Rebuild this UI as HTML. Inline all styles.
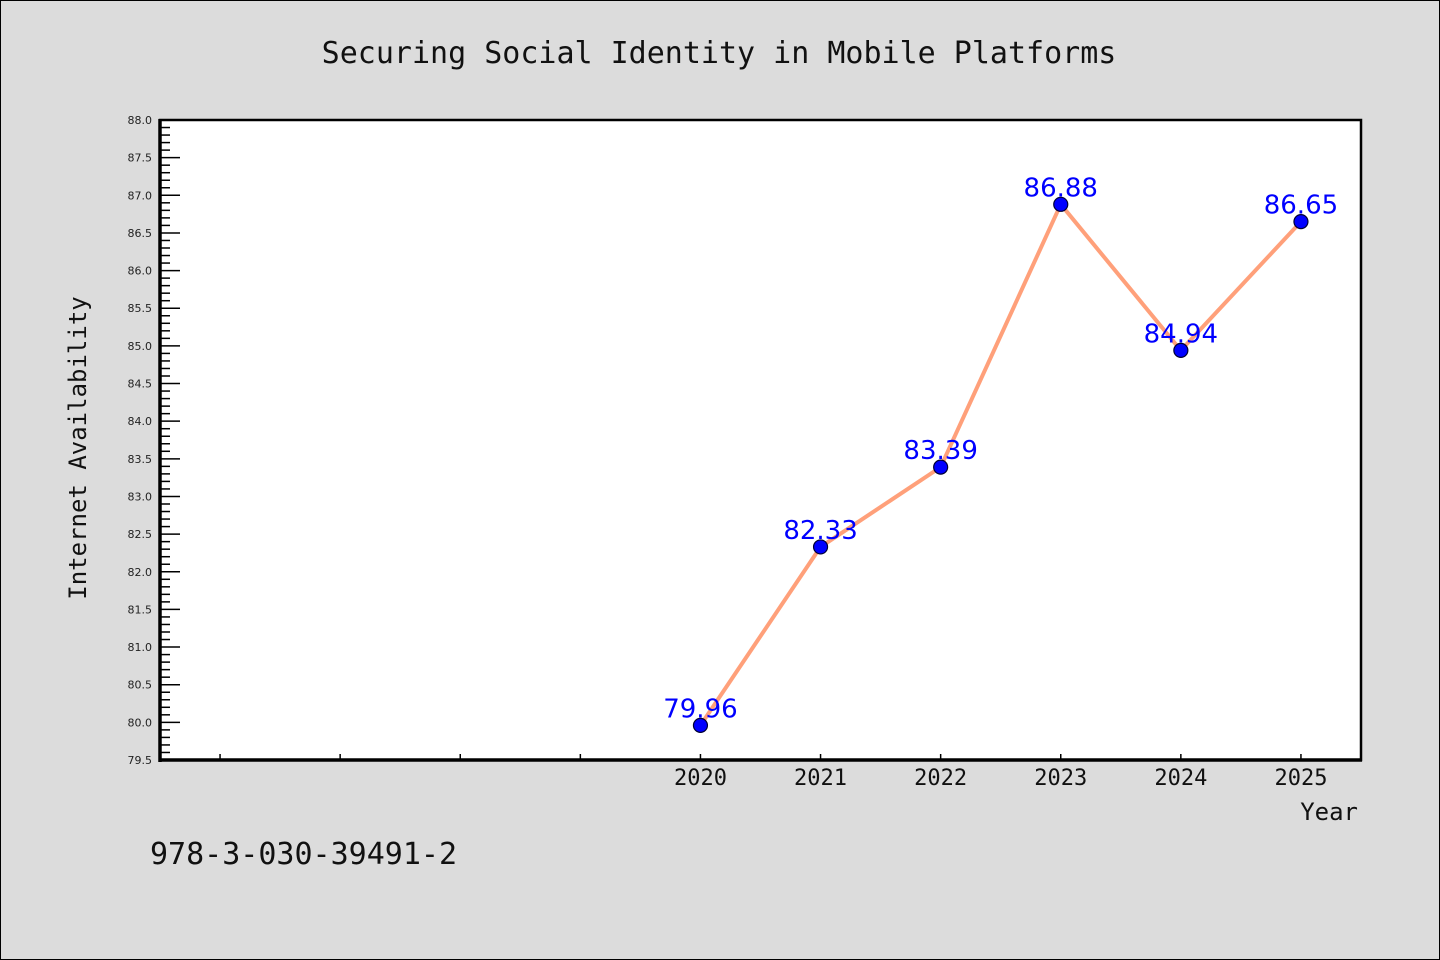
<!DOCTYPE html>
<html><head><meta charset="utf-8"><style>
body{margin:0;background:#dcdcdc;}
svg{display:block;font-family:"DejaVu Sans Mono","Liberation Mono",monospace;}
</style></head><body>
<svg width="1440" height="960">
<rect x="0.5" y="0.5" width="1439" height="959" fill="#dcdcdc" stroke="#000"/>
<text x="719" y="63" font-size="30" text-anchor="middle" fill="#111">Securing Social Identity in Mobile Platforms</text>
<rect x="160" y="120" width="1201" height="640" fill="#fff"/>
<g id="axes"></g>
<g id="marks"></g>
<text transform="translate(86,448) rotate(-90)" font-size="24" text-anchor="middle" fill="#111">Internet Availability</text>
<text x="1358" y="820" font-size="24" text-anchor="end" fill="#111">Year</text>
<text x="150" y="864" font-size="30" fill="#111">978-3-030-39491-2</text>
</svg>
<script>
const years=[2020,2021,2022,2023,2024,2025];
const values=[79.96,82.33,83.39,86.88,84.94,86.65];
const valueLabels=["79.96","82.33","83.39","86.88","84.94","86.65"];
const yTickLabels=["79.5","80.0","80.5","81.0","81.5","82.0","82.5","83.0","83.5","84.0","84.5","85.0","85.5","86.0","86.5","87.0","87.5","88.0"];
const xTicks=[2016,2017,2018,2019,2020,2021,2022,2023,2024,2025];
const xLabels=["","","","","2020","2021","2022","2023","2024","2025"];
const NS="http://www.w3.org/2000/svg";
const X0=160,X1=1361,Y0=760,Y1=120;
const xMin=2015.5,xMax=2025.5,yMin=79.5,yMax=88.0;
const sx=v=>X0+(v-xMin)/(xMax-xMin)*(X1-X0);
const sy=v=>Y0-(v-yMin)/(yMax-yMin)*(Y0-Y1);
function mk(tag,attrs,parent){const e=document.createElementNS(NS,tag);for(const k in attrs)e.setAttribute(k,attrs[k]);parent.appendChild(e);return e;}
const axes=document.getElementById('axes'),marks=document.getElementById('marks');
// y minor ticks
for(let i=0;i<=85;i++){const v=yMin+i*0.1;const major=i%5===0;
 const t=mk('line',{x1:X0,x2:X0+(major?20:10),y1:sy(v),y2:sy(v),stroke:'#000','stroke-width':1.5},axes);
 
 }
yTickLabels.forEach(l=>{const t=mk('text',{x:X0-8,y:sy(parseFloat(l))+4,'font-size':11,'text-anchor':'end',fill:'#222','font-family':'DejaVu Sans, sans-serif'},axes);t.textContent=l;
 
 });
xTicks.forEach((v,i)=>{const t=mk('line',{x1:sx(v),x2:sx(v),y1:Y0,y2:Y0-6,stroke:'#000','stroke-width':1.5},axes);
 
 
 if(xLabels[i]){const tx=mk('text',{x:sx(v),y:785,'font-size':22,'text-anchor':'middle',fill:'#111'},axes);tx.textContent=xLabels[i];
 
 }});
// spines
const f=mk('rect',{x:X0,y:Y1,width:X1-X0,height:Y0-Y1,fill:'none',stroke:'#000','stroke-width':2.5},axes);


const l1=mk('line',{x1:X0,x2:X0,y1:Y1-1,y2:Y0+2,stroke:'#000','stroke-width':3.5},axes);


const l2=mk('line',{x1:X0-1,x2:X1+1,y1:Y0,y2:Y0,stroke:'#000','stroke-width':3.5},axes);


// line
const pl=mk('polyline',{points:years.map((y,i)=>sx(y)+','+sy(values[i])).join(' '),fill:'none',stroke:'#ffa07a','stroke-width':4,'stroke-linejoin':'round'},marks);


years.forEach((y,i)=>{
 const c=mk('circle',{cx:sx(y),cy:sy(values[i]),r:7,fill:'#0000ff',stroke:'#000033','stroke-width':1.2},marks);
 
 
 const t=mk('text',{x:sx(y),y:sy(values[i])-8,'font-size':26,'text-anchor':'middle',fill:'#0000ff','font-family':'DejaVu Sans, sans-serif'},marks);
 t.textContent=valueLabels[i];
 
 
});
</script>
</body></html>
